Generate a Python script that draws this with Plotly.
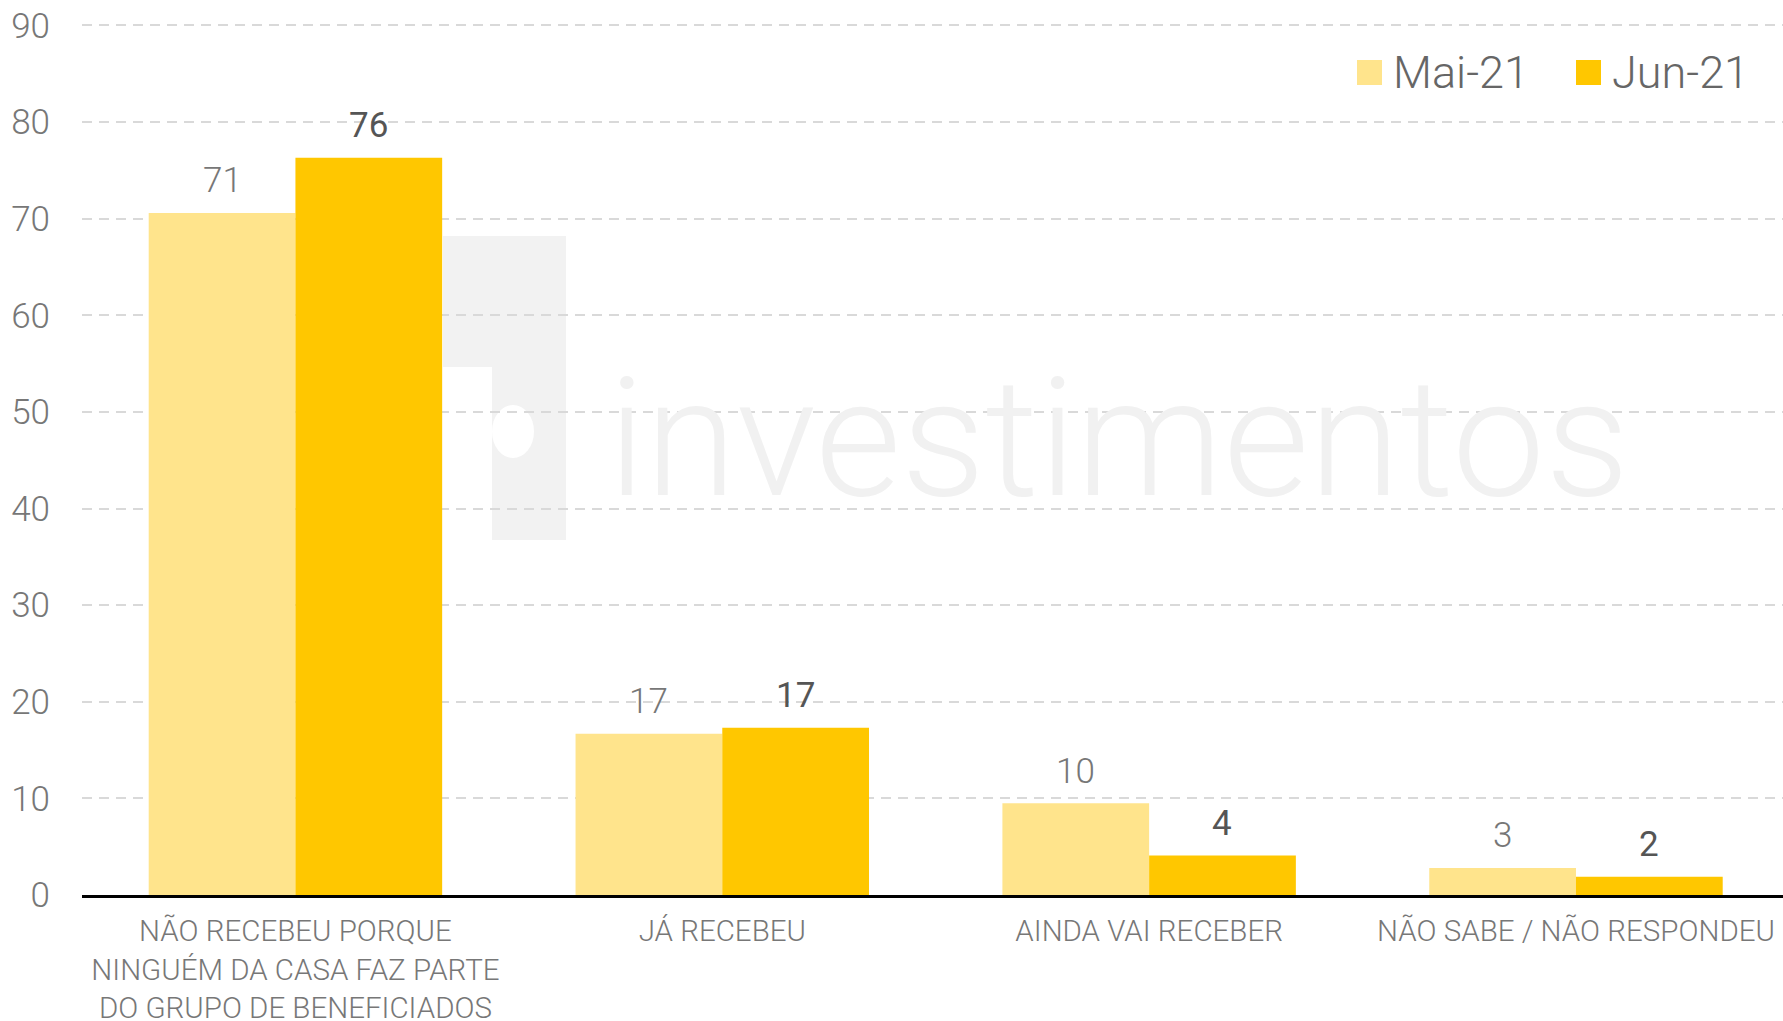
import plotly.graph_objects as go

categories = [
    "NÃO RECEBEU PORQUE<br>NINGUÉM DA CASA FAZ PARTE<br>DO GRUPO DE BENEFICIADOS",
    "JÁ RECEBEU",
    "AINDA VAI RECEBER",
    "NÃO SABE / NÃO RESPONDEU",
]
mai_21 = [70.6, 16.7, 9.5, 2.8]
jun_21 = [76.3, 17.3, 4.1, 1.9]
series_names = ["Mai-21", "Jun-21"]
y_ticks = [0, 10, 20, 30, 40, 50, 60, 70, 80, 90]

FONT = "Roboto Slab, Roboto, sans-serif"
MAI_COLOR = "#FFE48C"
JUN_COLOR = "#FFC700"

W, H = 1783, 1021
ML, MR, MT, MB = 82, 0, 24, 126
XRANGE = [-0.5, 3.485]
YRANGE = [0, 90.15]
BARGAP = 0.3125
plot_w = W - ML - MR
plot_h = H - MT - MB
cat_w = plot_w / (XRANGE[1] - XRANGE[0])
bar_w = cat_w * (1 - BARGAP) / 2

fig = go.Figure()
fig.add_trace(go.Bar(
    x=categories, y=mai_21, name=series_names[0],
    marker=dict(color=MAI_COLOR, line=dict(width=0)), showlegend=False,
))
fig.add_trace(go.Bar(
    x=categories, y=jun_21, name=series_names[1],
    marker=dict(color=JUN_COLOR, line=dict(width=0)), showlegend=False,
))

# value labels
for vals, shift, col, wt in [(mai_21, -bar_w / 2, "#777777", 300),
                             (jun_21, bar_w / 2, "#555555", 400)]:
    for c, v in zip(categories, vals):
        fig.add_annotation(
            x=c, y=v, text=f"{v:.0f}", showarrow=False,
            xshift=shift, yshift=32, xanchor="center", yanchor="middle",
            font=dict(family=FONT, size=35, color=col, weight=wt),
        )

# manual legend (bigger swatches)
def px_x(px):
    return (px - ML) / plot_w

def px_y(py):
    return (H - MB - py) / plot_h

for name, col, sx in [(series_names[0], MAI_COLOR, 1357),
                      (series_names[1], JUN_COLOR, 1576)]:
    fig.add_shape(type="rect", xref="paper", yref="paper",
                  x0=px_x(sx), x1=px_x(sx + 25), y0=px_y(85), y1=px_y(60),
                  fillcolor=col, line=dict(width=0))
    fig.add_annotation(text=name, xref="paper", yref="paper",
                       x=px_x(sx + 34), y=px_y(72), xanchor="left", yanchor="middle",
                       showarrow=False,
                       font=dict(family=FONT, size=45, color="#666666", weight=300))

# faint watermark
fig.add_shape(type="rect", xref="paper", yref="paper", layer="below",
              x0=px_x(443), x1=px_x(566), y0=px_y(367), y1=px_y(236),
              fillcolor="#f2f2f2", line=dict(width=0))
fig.add_shape(type="rect", xref="paper", yref="paper", layer="below",
              x0=px_x(492), x1=px_x(566), y0=px_y(540), y1=px_y(367),
              fillcolor="#f2f2f2", line=dict(width=0))
fig.add_shape(type="circle", xref="paper", yref="paper", layer="below",
              x0=px_x(492), x1=px_x(534), y0=px_y(458), y1=px_y(405),
              fillcolor="#ffffff", line=dict(width=0))
fig.add_annotation(text="investimentos", xref="paper", yref="paper",
                   x=px_x(606), y=px_y(538), xanchor="left", yanchor="bottom",
                   showarrow=False,
                   font=dict(family="Roboto", size=166, color="#f1f1f1", weight=300))

fig.update_layout(
    width=W, height=H,
    margin=dict(l=ML, r=MR, t=MT, b=MB, autoexpand=False),
    paper_bgcolor="white", plot_bgcolor="white",
    barmode="group", bargap=BARGAP, bargroupgap=0,
    font=dict(family=FONT, color="#777777", weight=300),
    showlegend=False,
    xaxis=dict(
        type="category", range=XRANGE, automargin=False,
        showline=True, linecolor="#000000", linewidth=3,
        showgrid=False, ticks="", ticklabelstandoff=8,
        tickfont=dict(family=FONT, size=29.5, color="#777777", weight=300),
    ),
    yaxis=dict(
        range=YRANGE, tickvals=y_ticks, showline=False, zeroline=False,
        automargin=False,
        showgrid=True, gridcolor="#d9d9d9", gridwidth=2, griddash="10px,7px",
        ticks="", ticklabelstandoff=31,
        tickfont=dict(family=FONT, size=35, color="#777777", weight=300),
    ),
)

fig.write_html(
    "out.html",
    config={"displayModeBar": False},
    post_script="document.body.style.margin='0';document.body.style.overflow='hidden';",
)
